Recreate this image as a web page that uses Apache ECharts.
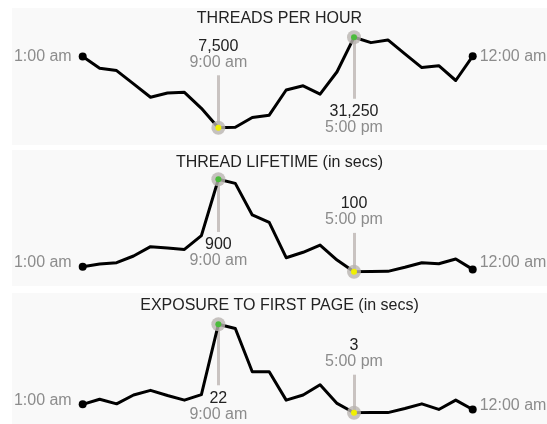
<!DOCTYPE html>
<html>
<head>
<meta charset="utf-8">
<script src="https://cdn.jsdelivr.net/npm/echarts@6/dist/echarts.min.js"></script>
<style>html,body{margin:0;padding:0;background:#fff}#c{width:547px;height:424px}</style>
</head>
<body>
<div id="c"></div>
<script>
const hours = ['1:00 am','2:00 am','3:00 am','4:00 am','5:00 am','6:00 am','7:00 am','8:00 am','9:00 am','10:00 am','11:00 am','12:00 pm',
  '1:00 pm','2:00 pm','3:00 pm','4:00 pm','5:00 pm','6:00 pm','7:00 pm','8:00 pm','9:00 pm','10:00 pm','11:00 pm','12:00 am'];
const titles = ['THREADS PER HOUR', 'THREAD LIFETIME (in secs)', 'EXPOSURE TO FIRST PAGE (in secs)'];
const threadsPerHour = [26200, 23100, 22500, 19000, 15500, 16600, 16800, 12600, 7500, 7600, 10200, 10800,
  17400, 18500, 16300, 22200, 31250, 29850, 30550, 26900, 23300, 23800, 19900, 26300];
const threadLifetime = [143, 166, 178, 236, 317, 305, 293, 412, 900, 865, 591, 527,
  221, 268, 331, 201, 100, 101, 103, 138, 178, 169, 210, 120];
const exposureToFirstPage = [4.8, 5.9, 4.9, 6.8, 7.8, 6.7, 5.7, 6.9, 22, 21.1, 11.8, 11.8,
  5.7, 6.8, 9.0, 5.0, 3, 3.02, 3.02, 3.9, 4.9, 3.7, 5.7, 3.7];

const seriesData = [threadsPerHour, threadLifetime, exposureToFirstPage];

// layout / style (not data)
const FONT = "'Liberation Sans', Arial, Helvetica, sans-serif";
const panels = [
  {bgTop: 8, bgH: 137, gridTop: 37.3, gridH: 90.4, titleY: 18.5, minFrac: 0.58, maxFrac: 0.68, lOff: 0, rOff: 0},
  {bgTop: 150, bgH: 136, gridTop: 179.3, gridH: 92.4, titleY: 162.5, minFrac: 0.42, maxFrac: 0.57, lOff: -4, rOff: -7},
  {bgTop: 293, bgH: 140, gridTop: 324.3, gridH: 88.4, titleY: 306, minFrac: 0.43, maxFrac: 0.69, lOff: -4, rOff: -4}
];
const GRID_LEFT = 82.7, GRID_RIGHT = 74.3;

const fmt = v => v.toLocaleString('en-US');

const option = {
  animation: false,
  backgroundColor: '#ffffff',
  textStyle: {fontFamily: FONT},
  graphic: panels.map(p => ({
    type: 'rect', left: 12, top: p.bgTop, z: -10, silent: true,
    shape: {width: 535, height: p.bgH},
    style: {fill: '#f9f9f9'}
  })),
  title: titles.map((t, i) => ({
    text: t, left: 279.5, textAlign: 'center', top: panels[i].titleY - 9, padding: 0,
    textStyle: {fontFamily: FONT, fontSize: 16, fontWeight: 'normal', color: '#222', lineHeight: 18}
  })),
  grid: panels.map(p => ({left: GRID_LEFT, right: GRID_RIGHT, top: p.gridTop, height: p.gridH, containLabel: false})),
  xAxis: panels.map((p, i) => ({type: 'category', gridIndex: i, data: hours, boundaryGap: false, show: false})),
  yAxis: panels.map((p, i) => {
    const d = seriesData[i];
    return {type: 'value', gridIndex: i, show: false, min: Math.min(...d), max: Math.max(...d), scale: true};
  }),
  series: seriesData.map((d, i) => {
    const p = panels[i];
    const mn = Math.min(...d), mx = Math.max(...d);
    const iMin = d.indexOf(mn), iMax = d.indexOf(mx);
    const range = mx - mn;
    const last = d.length - 1;
    const data = d.map((v, k) => {
      if (k === 0) return {value: v, symbol: 'circle', symbolSize: 8,
        label: {show: true, position: 'left', distance: 7, offset: [0, p.lOff], formatter: hours[0], color: '#8c8c8c', fontSize: 16, fontFamily: FONT}};
      if (k === last) return {value: v, symbol: 'circle', symbolSize: 8,
        label: {show: true, position: 'right', distance: 3, offset: [0, p.rOff], formatter: hours[last], color: '#8c8c8c', fontSize: 16, fontFamily: FONT}};
      return {value: v, symbol: 'none'};
    });
    const rich = {
      v: {color: '#222', fontSize: 16, lineHeight: 16, fontFamily: FONT},
      t: {color: '#8c8c8c', fontSize: 16, lineHeight: 16, fontFamily: FONT}
    };
    return {
      type: 'line', xAxisIndex: i, yAxisIndex: i, data: data,
      showSymbol: true, showAllSymbol: true, symbol: 'none',
      itemStyle: {color: '#000'},
      lineStyle: {color: '#000', width: 3, join: 'round'},
      emphasis: {disabled: true},
      z: 3,
      markLine: {
        silent: true, symbol: ['none', 'none'], z: 2,
        lineStyle: {color: '#c9c3c1', width: 3, type: 'solid'},
        label: {show: true, position: 'end', distance: 5, rich: rich, align: 'center'},
        data: [
          [{coord: [iMin, mn]}, {coord: [iMin, mn + p.minFrac * range],
            label: {formatter: '{v|' + fmt(mn) + '}\n{t|' + hours[iMin] + '}'}}],
          [{coord: [iMax, mx]}, {coord: [iMax, mx - p.maxFrac * range],
            label: {formatter: '{v|' + fmt(mx) + '}\n{t|' + hours[iMax] + '}'}}]
        ]
      },
      markPoint: {
        silent: true, z: 5, label: {show: false},
        data: [
          {coord: [iMin, mn], symbol: 'circle', symbolSize: 14, itemStyle: {color: 'rgba(185,180,176,0.8)'}},
          {coord: [iMin, mn], symbol: 'circle', symbolSize: 6, itemStyle: {color: '#f0f000'}},
          {coord: [iMax, mx], symbol: 'circle', symbolSize: 14, itemStyle: {color: 'rgba(185,180,176,0.8)'}},
          {coord: [iMax, mx], symbol: 'circle', symbolSize: 6, itemStyle: {color: '#4cbb3c'}}
        ]
      }
    };
  })
};

const chart = echarts.init(document.getElementById('c'), null, {renderer: 'canvas'});
chart.setOption(option);
</script>
</body>
</html>
